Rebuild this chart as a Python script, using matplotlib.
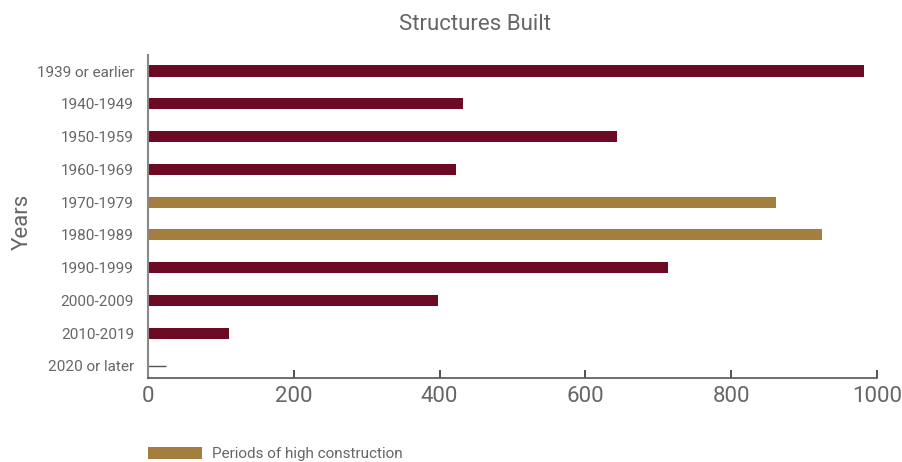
import matplotlib
matplotlib.use("Agg")
import matplotlib.pyplot as plt
from matplotlib.patches import Patch

categories = ["1939 or earlier", "1940-1949", "1950-1959", "1960-1969", "1970-1979",
              "1980-1989", "1990-1999", "2000-2009", "2010-2019", "2020 or later"]
values = [982, 432, 643, 422, 861, 925, 713, 398, 111, 25]
high = [False, False, False, False, True, True, False, False, False, False]
x_ticks = [0, 200, 400, 600, 800, 1000]

maroon = "#6B0A22"
gold = "#A37E3E"
gray = "#666666"

plt.rcParams['font.family'] = ['Roboto', 'DejaVu Sans']

fig = plt.figure(figsize=(9.02, 4.62), dpi=100)
ax = fig.add_axes([148/902, 1-378/462, (877-148)/902, (378-55)/462])

ys = list(range(len(categories)))
for y, v, h in zip(ys, values, high):
    if categories[y] == "2020 or later":
        ax.hlines(y, 0, v, color="#555555", linewidth=1)
    else:
        ax.barh(y, v, height=0.34, color=gold if h else maroon)

ax.set_xlim(0, 1000)
ax.set_ylim(9.37, -0.49)
ax.set_yticks(ys)
ax.set_yticklabels(categories, fontsize=11, color=gray)
ax.tick_params(axis='y', length=0, pad=10)
ax.set_xticks(x_ticks)
ax.set_xticklabels([str(t) for t in x_ticks], fontsize=16, color=gray)
ax.tick_params(axis='x', direction='in', length=6, width=1.2, color="#333333", pad=6)

for s in ["top", "right"]:
    ax.spines[s].set_visible(False)
ax.spines["left"].set_color("#888888")
ax.spines["left"].set_linewidth(1.5)
ax.spines["bottom"].set_color("#555555")
ax.spines["bottom"].set_linewidth(1.2)

fig.text(475/902, 1-25/462, "Structures Built", ha="center", va="center", fontsize=16, color=gray)
fig.text(22/902, 1-222/462, "Years", ha="center", va="center", fontsize=16, color=gray, rotation=90)

handle = Patch(facecolor=gold, edgecolor="none", label="Periods of high construction")
fig.legend(handles=[handle], loc="center left", bbox_to_anchor=(142/902, 1-454/462),
           frameon=False, fontsize=11, handlelength=3.5, handleheight=0.9,
           handletextpad=0.7, labelcolor=gray, borderaxespad=0, borderpad=0.4)

fig.savefig("out.png", dpi=100)
